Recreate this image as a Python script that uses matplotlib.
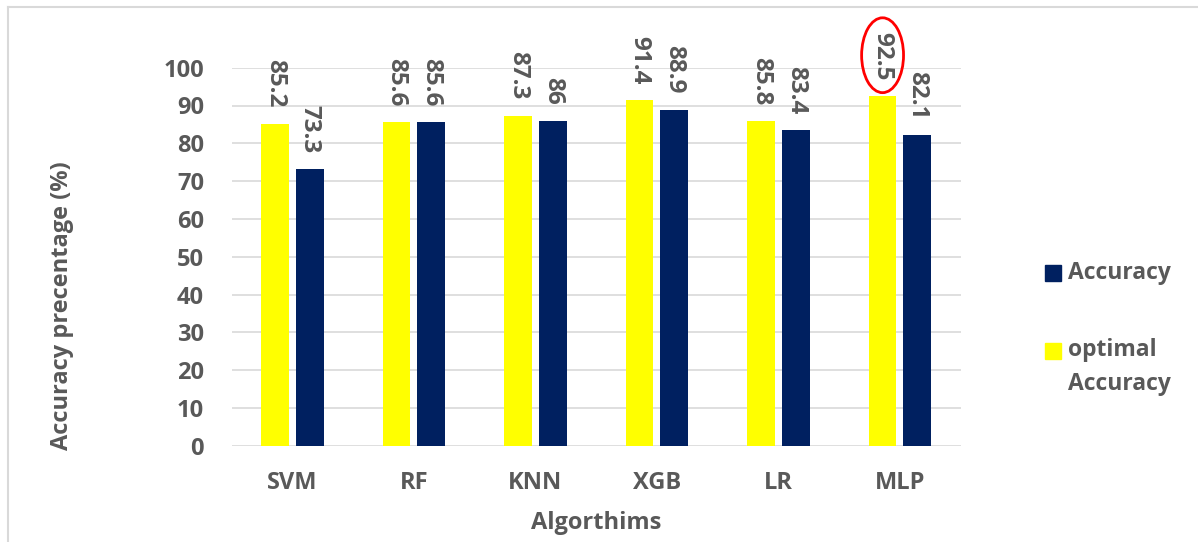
import matplotlib
matplotlib.use('Agg')
import matplotlib.pyplot as plt
import numpy as np
from matplotlib.patches import Ellipse, Rectangle
from matplotlib.lines import Line2D

algorithms = ['SVM', 'RF', 'KNN', 'XGB', 'LR', 'MLP']
optimal_acc = [85.2, 85.6, 87.3, 91.4, 85.8, 92.5]
accuracy = [73.3, 85.6, 86, 88.9, 83.4, 82.1]
yticks = list(range(0, 101, 10))

YELLOW = '#FFFF00'
NAVY = '#002060'
TXT = '#595959'
GRID = '#d9d9d9'

plt.rcParams['font.family'] = ['Open Sans', 'DejaVu Sans']
plt.rcParams['font.weight'] = 'bold'

W, H = 1198, 542
fig = plt.figure(figsize=(W / 100, H / 100), dpi=100)
ax = fig.add_axes([231.7 / W, 1 - 445.7 / H, 729 / W, 378 / H])

x = np.arange(len(algorithms))
bw = 0.228
off = 0.143
b1 = ax.bar(x - off, optimal_acc, bw, color=YELLOW, zorder=3)
b2 = ax.bar(x + off, accuracy, bw, color=NAVY, zorder=3)

# vertical value labels above each bar
for bars in (b1, b2):
    for r in bars:
        v = r.get_height()
        ax.annotate('{:g}'.format(v), (r.get_x() + r.get_width() / 2, v),
                    xytext=(0, 11.5), textcoords='offset points',
                    rotation=-90, ha='center', va='bottom',
                    fontsize=17.5, fontweight='bold', color=TXT)

# highlight best result
best = int(np.argmax(optimal_acc))
ax.add_patch(Ellipse((best - off, optimal_acc[best] + 10.8), 0.345, 19.8,
                     fill=False, edgecolor='red', lw=2, clip_on=False, zorder=5))

ax.set_xlim(-0.5, len(algorithms) - 0.5)
ax.set_ylim(0, 100)
ax.set_yticks(yticks)
ax.set_xticks(x)
ax.set_xticklabels(algorithms)
ax.tick_params(axis='both', length=0, labelsize=17, labelcolor=TXT)
ax.tick_params(axis='y', pad=20)
ax.tick_params(axis='x', pad=18)
for lab in ax.get_xticklabels() + ax.get_yticklabels():
    lab.set_fontweight('bold')
ax.grid(axis='y', color=GRID, lw=1.2, zorder=0)
for s in ax.spines.values():
    s.set_visible(False)

fig.text(62 / W, 1 - 306 / H, 'Accuracy precentage (%)', rotation=90,
         ha='center', va='center', fontsize=17, fontweight='bold', color=TXT)
fig.text(596 / W, 1 - 523 / H, 'Algorthims', ha='center', va='center',
         fontsize=17, fontweight='bold', color=TXT)

# legend
fig.patches.append(Rectangle((1045 / W, 1 - 281 / H), 16 / W, 16 / H,
                             color=NAVY, transform=fig.transFigure))
fig.patches.append(Rectangle((1045 / W, 1 - 359 / H), 16 / W, 16 / H,
                             color=YELLOW, transform=fig.transFigure))
fig.text(1068 / W, 1 - 273 / H, 'Accuracy', ha='left', va='center',
         fontsize=16.5, fontweight='bold', color=TXT)
fig.text(1068 / W, 1 - 338 / H, 'optimal\nAccuracy', ha='left', va='top',
         fontsize=16.5, fontweight='bold', color=TXT, linespacing=1.55)

# outer frame
fig.add_artist(Line2D([8 / W, 1], [1 - 7 / H, 1 - 7 / H], color=GRID, lw=1.5))
fig.add_artist(Line2D([8 / W, 8 / W], [0, 1 - 7 / H], color=GRID, lw=1.5))

fig.savefig('out.png', dpi=100)
